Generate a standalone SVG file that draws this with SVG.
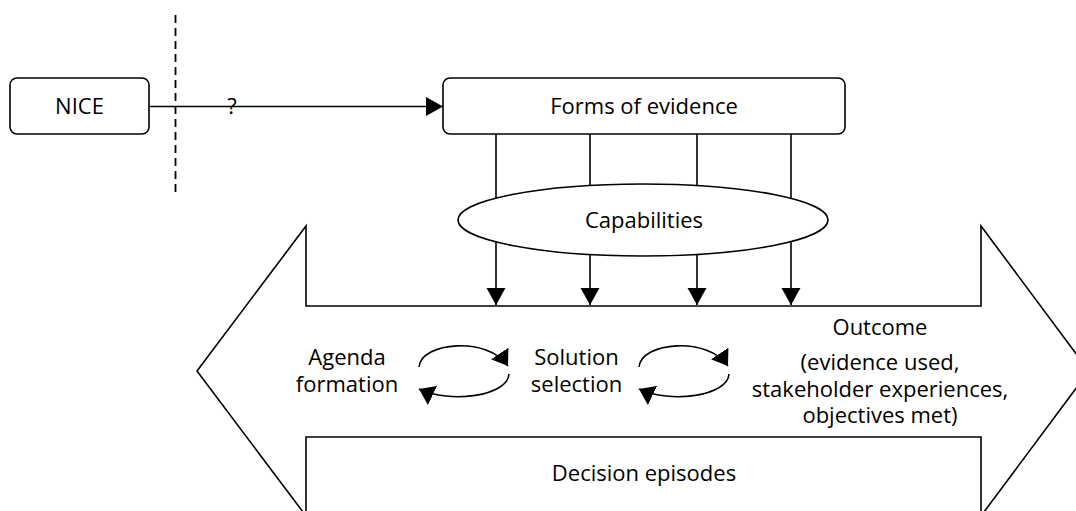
<svg xmlns="http://www.w3.org/2000/svg" width="1076" height="511" viewBox="0 0 1076 511">
  <style>
    .box { fill: #fff; stroke: #000; stroke-width: 1.6; }
    .shape { fill: #fff; stroke: #000; stroke-width: 1.6; }
    .line { fill: none; stroke: #000; stroke-width: 1.6; }
    .dash { fill: none; stroke: #000; stroke-width: 1.8; stroke-dasharray: 8 5; }
    .label { font-family: "Open Sans", "Noto Sans", "Liberation Sans", sans-serif; font-size: 22px; fill: #000; text-anchor: middle; }
  </style>
  <defs>
    <marker id="head" markerUnits="userSpaceOnUse" markerWidth="18" markerHeight="20" refX="17" refY="9.5" orient="auto" viewBox="0 0 18 20">
      <path d="M0,0 L17,9.5 L0,19 z" fill="#000"/>
    </marker>
    <marker id="cycleHead" markerUnits="userSpaceOnUse" markerWidth="16" markerHeight="22" refX="15" refY="10.5" orient="auto" viewBox="0 0 16 22">
      <path d="M0,0 L15,10.5 L0,21 z" fill="#000"/>
    </marker>
  </defs>

  <!-- Decision episodes: double-headed block arrow -->
  <g id="decision-episodes">
    <polygon class="shape" points="197,371 306,226 306,306 981,306 981,226 1089,371 981,516 981,437 306,437 306,516"/>
    <text class="label" x="644" y="481">Decision episodes</text>
  </g>

  <!-- Boundary -->
  <g id="boundary">
    <line class="dash" x1="175.5" y1="15" x2="175.5" y2="197"/>
  </g>

  <!-- Connectors -->
  <g id="connectors">
    <line class="line" x1="149" y1="106.5" x2="443" y2="106.5" marker-end="url(#head)"/>
    <text class="label" x="232" y="114">?</text>
    <line class="line" x1="496" y1="134" x2="496" y2="305" marker-end="url(#head)"/>
    <line class="line" x1="590" y1="134" x2="590" y2="305" marker-end="url(#head)"/>
    <line class="line" x1="697" y1="134" x2="697" y2="305" marker-end="url(#head)"/>
    <line class="line" x1="791" y1="134" x2="791" y2="305" marker-end="url(#head)"/>
    <!-- agenda / solution cycle -->
    <path class="line" d="M419,367 C421,342 488,336 508,366" marker-end="url(#cycleHead)"/>
    <path class="line" d="M509,374 C508,396 450,404 419,389" marker-end="url(#cycleHead)"/>
    <!-- solution / outcome cycle -->
    <path class="line" d="M639,367 C641,342 708,336 728,366" marker-end="url(#cycleHead)"/>
    <path class="line" d="M729,374 C728,396 670,404 639,389" marker-end="url(#cycleHead)"/>
  </g>

  <g id="nice">
    <rect class="box" x="10" y="78" width="139" height="56" rx="7" ry="7"/>
    <text class="label" x="79.5" y="114">NICE</text>
  </g>

  <g id="forms-of-evidence">
    <rect class="box" x="443" y="78" width="402" height="56" rx="7" ry="7"/>
    <text class="label" x="644" y="114">Forms of evidence</text>
  </g>

  <g id="capabilities">
    <ellipse class="shape" cx="643" cy="220" rx="185" ry="36"/>
    <text class="label" x="644" y="228">Capabilities</text>
  </g>

  <g id="agenda-formation">
    <text class="label" x="347" y="365">Agenda</text>
    <text class="label" x="347" y="392">formation</text>
  </g>

  <g id="solution-selection">
    <text class="label" x="576.5" y="365">Solution</text>
    <text class="label" x="576.5" y="392">selection</text>
  </g>

  <g id="outcome">
    <text class="label" x="880" y="335">Outcome</text>
    <text class="label" x="880" y="370">(evidence used,</text>
    <text class="label" x="880" y="396.5">stakeholder experiences,</text>
    <text class="label" x="880" y="423">objectives met)</text>
  </g>
</svg>
